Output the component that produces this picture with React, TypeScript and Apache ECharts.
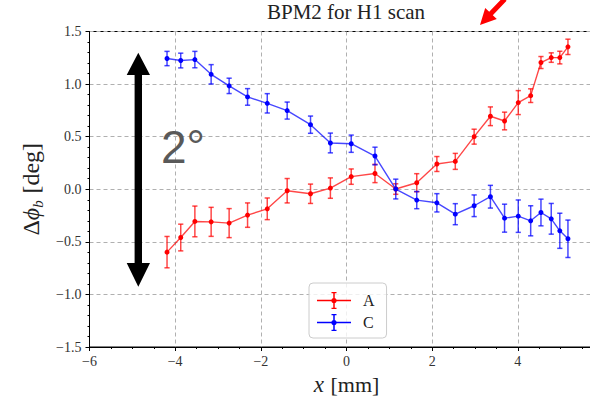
import React, { useEffect, useRef } from "react";
import * as echarts from "echarts";

const xPos = [-4.19, -3.87, -3.54, -3.16, -2.74, -2.31, -1.85, -1.385, -0.84, -0.376, 0.11, 0.665, 1.15, 1.64, 2.11, 2.54, 2.98, 3.36, 3.69, 4.01, 4.3, 4.54, 4.78, 4.98, 5.17];
const seriesA = [-0.598, -0.459, -0.306, -0.31, -0.322, -0.246, -0.186, -0.014, -0.043, 0.011, 0.12, 0.15, 0.002, 0.062, 0.24, 0.265, 0.5, 0.694, 0.649, 0.824, 0.89, 1.205, 1.252, 1.252, 1.354];
const errA = [0.149, 0.127, 0.146, 0.138, 0.138, 0.116, 0.103, 0.116, 0.092, 0.097, 0.073, 0.087, 0.05, 0.086, 0.071, 0.076, 0.071, 0.089, 0.084, 0.114, 0.065, 0.057, 0.045, 0.06, 0.073];
const seriesC = [1.243, 1.224, 1.233, 1.093, 0.983, 0.878, 0.817, 0.748, 0.614, 0.44, 0.433, 0.316, 0.002, -0.103, -0.129, -0.237, -0.157, -0.071, -0.275, -0.256, -0.3, -0.221, -0.281, -0.395, -0.471];
const errC = [0.068, 0.07, 0.078, 0.092, 0.073, 0.079, 0.092, 0.081, 0.082, 0.094, 0.082, 0.084, 0.094, 0.082, 0.087, 0.1, 0.103, 0.108, 0.133, 0.154, 0.143, 0.127, 0.146, 0.167, 0.178];

const TITLE = "BPM2 for H1 scan";
const RED = "#ff0000";
const BLUE = "#0000ff";
const RED_T = "rgba(255,0,0,0.72)";
const BLUE_T = "rgba(0,0,255,0.72)";
const SERIF = "'Liberation Serif', 'DejaVu Serif', serif";

const legendIcon =
  "path://M0,8.25 H34 V9.75 H0 Z M16.25,0.5 H17.75 V17.5 H16.25 Z M14.5,0.5 H19.5 V1.8 H14.5 Z M14.5,16.2 H19.5 V17.5 H14.5 Z M14.4,9 A2.6,2.6 0 1 1 19.6,9 A2.6,2.6 0 1 1 14.4,9 Z";

function fmt(v: number, d: number) {
  const s = Math.abs(v).toFixed(d);
  return v < 0 ? "\u2212" + s : s;
}

function errSeries(name: string, ys: number[], errs: number[], color: string) {
  return {
    name,
    type: "custom",
    data: xPos.map((x, i) => [x, ys[i] - errs[i], ys[i] + errs[i]]),
    encode: { x: 0, y: [1, 2] },
    z: 2,
    renderItem: (params: any, api: any) => {
      const x = api.value(0);
      const p1 = api.coord([x, api.value(2)]);
      const p2 = api.coord([x, api.value(1)]);
      const c = 2.6;
      const st = { stroke: color, lineWidth: 1.5 };
      return {
        type: "group",
        children: [
          { type: "line", shape: { x1: p1[0], y1: p1[1], x2: p2[0], y2: p2[1] }, style: st },
          { type: "line", shape: { x1: p1[0] - c, y1: p1[1], x2: p1[0] + c, y2: p1[1] }, style: st },
          { type: "line", shape: { x1: p2[0] - c, y1: p2[1], x2: p2[0] + c, y2: p2[1] }, style: st },
        ],
      };
    },
  };
}

function lineSeries(name: string, ys: number[], lineColor: string, color: string) {
  return {
    name,
    type: "line",
    data: xPos.map((x, i) => [x, ys[i]]),
    symbol: "circle",
    symbolSize: 5,
    showSymbol: true,
    z: 3,
    itemStyle: { color },
    lineStyle: { color: lineColor, width: 1.4 },
  };
}

export default function App() {
  const ref = useRef<HTMLDivElement>(null);
  useEffect(() => {
    if (!ref.current) return;
    const chart = echarts.init(ref.current, null, { renderer: "svg" });
    const gridLine = { show: true, lineStyle: { color: "#b0b0b0", type: [4, 3], width: 1 } };
    chart.setOption({
      animation: false,
      backgroundColor: "#ffffff",
      title: {
        text: TITLE,
        left: 346,
        top: 1,
        padding: 0,
        textAlign: "center",
        textStyle: { fontFamily: SERIF, fontSize: 21, fontWeight: "normal", color: "#222" },
      },
      grid: {
        left: 89.5,
        right: -13.5,
        top: 31.5,
        bottom: 52,
        show: true,
        borderColor: "#000",
        borderWidth: 1,
        containLabel: false,
        outerBoundsMode: "none",
      },
      xAxis: {
        type: "value",
        min: -6,
        max: 6,
        interval: 2,
        axisLine: { show: true, onZero: false, lineStyle: { color: "#000" } },
        axisTick: { show: true, length: 4, lineStyle: { color: "#000" } },
        minorTick: { show: true, splitNumber: 4, length: 2, lineStyle: { color: "#000" } },
        axisLabel: { fontFamily: SERIF, fontSize: 14, color: "#333", margin: 7, showMaxLabel: false, formatter: (v: number) => fmt(v, 0) },
        splitLine: gridLine,
        name: "{i|x}  {t|[mm]}",
        nameLocation: "middle",
        nameGap: 21,
        nameTextStyle: {
          rich: {
            i: { fontFamily: SERIF, fontSize: 23, fontStyle: "italic", color: "#222" },
            t: { fontFamily: SERIF, fontSize: 22, color: "#222" },
          },
        },
      },
      yAxis: {
        type: "value",
        min: -1.5,
        max: 1.5,
        interval: 0.5,
        axisLine: { show: true, onZero: false, lineStyle: { color: "#000" } },
        axisTick: { show: true, length: 4, lineStyle: { color: "#000" } },
        minorTick: { show: true, splitNumber: 5, length: 2, lineStyle: { color: "#000" } },
        axisLabel: { fontFamily: SERIF, fontSize: 14, color: "#333", margin: 8, formatter: (v: number) => fmt(v, 1) },
        splitLine: gridLine,
        name: "{d|\u0394}{p|\u03d5}{s|b}  {t|[deg]}",
        nameLocation: "middle",
        nameRotate: 90,
        nameGap: 44,
        nameTextStyle: {
          rich: {
            d: { fontFamily: SERIF, fontSize: 24, color: "#222", lineHeight: 28 },
            p: { fontFamily: SERIF, fontSize: 24, fontStyle: "italic", color: "#222", lineHeight: 28 },
            s: { fontFamily: SERIF, fontSize: 15, fontStyle: "italic", color: "#222", verticalAlign: "bottom", lineHeight: 28 },
            t: { fontFamily: SERIF, fontSize: 24, color: "#222", lineHeight: 28 },
          },
        },
      },
      legend: {
        orient: "vertical",
        left: 309,
        top: 283,
        itemWidth: 34,
        itemHeight: 17,
        itemGap: 5,
        padding: [9, 12, 7, 8],
        backgroundColor: "rgba(255,255,255,0.8)",
        borderColor: "#cccccc",
        borderWidth: 1,
        borderRadius: 4,
        textStyle: { fontFamily: SERIF, fontSize: 16, color: "#222", padding: [0, 0, 0, 7] },
        data: [
          { name: "A", icon: legendIcon, itemStyle: { color: RED } },
          { name: "C", icon: legendIcon, itemStyle: { color: BLUE } },
        ],
      },
      series: [
        errSeries("A err", seriesA, errA, RED_T),
        errSeries("C err", seriesC, errC, BLUE_T),
        lineSeries("A", seriesA, RED_T, RED),
        lineSeries("C", seriesC, BLUE_T, BLUE),
      ],
      graphic: [
        {
          type: "polygon",
          z: 10,
          shape: {
            points: [
              [138.3, 52.7], [150, 75], [142, 75], [142, 263], [150, 263], [138.3, 286.7],
              [126.7, 263], [134.6, 263], [134.6, 75], [126.7, 75],
            ],
          },
          style: { fill: "#000" },
        },
        {
          type: "text",
          z: 10,
          x: 161,
          y: 147,
          style: { text: "2\u00b0", fontFamily: "'Liberation Sans', Arial, sans-serif", fontSize: 46, fill: "#595959", verticalAlign: "middle" },
        },
        {
          type: "polygon",
          z: 10,
          shape: {
            points: [
              [480, 25], [496.8, 19], [492.8, 15.2], [506.6, 0.8], [503, -2.6], [489.2, 11.8], [485.2, 8],
            ],
          },
          style: { fill: "#ff0000" },
        },
      ],
    });
    return () => chart.dispose();
  }, []);
  return <div ref={ref} style={{ position: "fixed", left: 0, top: 0, width: 590, height: 399 }} />;
}
